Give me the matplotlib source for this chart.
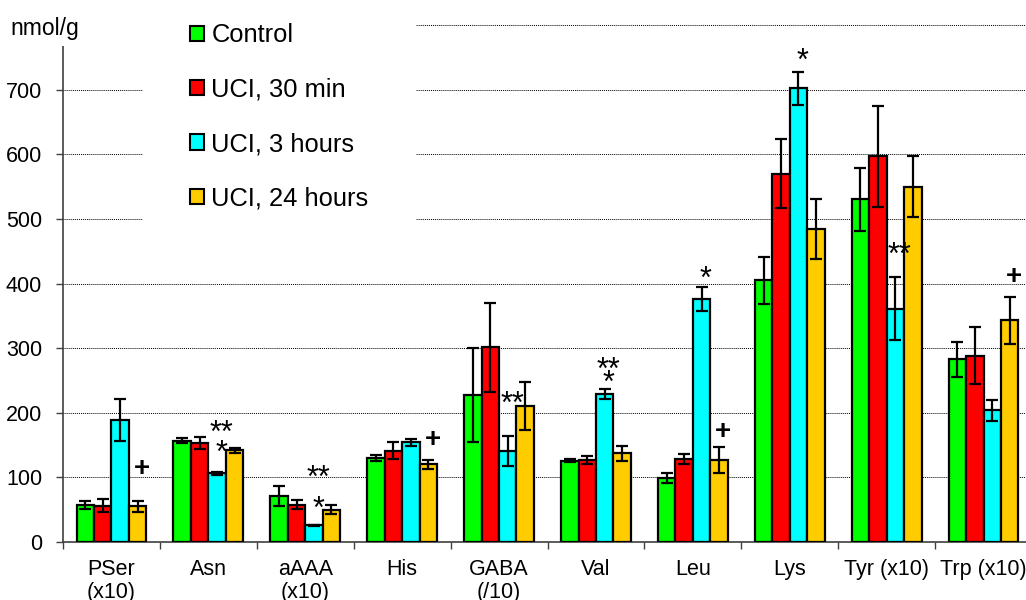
import numpy as np
import matplotlib
matplotlib.use("Agg")
import matplotlib.pyplot as plt
from matplotlib.patches import Rectangle, Patch

plt.rcParams['font.family'] = ['Liberation Sans', 'DejaVu Sans']

# Data (nmol/g, mean and error)
groups = ['PSer\n(x10)', 'Asn', 'aAAA\n(x10)', 'His', 'GABA\n(/10)',
          'Val', 'Leu', 'Lys', 'Tyr (x10)', 'Trp (x10)']
series = ['Control', 'UCI, 30 min', 'UCI, 3 hours', 'UCI, 24 hours']
control = [57, 157, 71, 130, 227, 126, 99, 405, 530, 283]
control_err = [6, 4, 15, 5, 73, 2, 8, 36, 48, 27]
uci30 = [56, 153, 58, 141, 301, 127, 128, 570, 597, 288]
uci30_err = [10, 9, 7, 13, 69, 6, 8, 53, 78, 44]
uci3h = [189, 106, 26, 154, 141, 229, 376, 702, 361, 204]
uci3h_err = [32, 3, 1, 6, 23, 8, 18, 26, 49, 16]
uci24 = [55, 142, 50, 120, 211, 137, 127, 484, 550, 343]
uci24_err = [8, 4, 7, 7, 37, 12, 20, 46, 47, 36]

# significance marks: (group index, series index, text, height)
marks = [(0, 3, '+', 117), (1, 2, '**', 181), (1, 2, '*', 150),
         (2, 2, '**', 112), (2, 2, '*', 63), (3, 3, '+', 161),
         (4, 2, '**', 225), (5, 2, '**', 279), (5, 2, '*', 258),
         (6, 2, '*', 419), (6, 3, '+', 173), (7, 2, '*', 756),
         (8, 2, '**', 456), (9, 3, '+', 413)]

colors = ['#00FF00', '#FF0000', '#00FFFF', '#FFCC00']
values = [control, uci30, uci3h, uci24]
errors = [control_err, uci30_err, uci3h_err, uci24_err]

W, H = 1026, 600
fig = plt.figure(figsize=(W / 100, H / 100), dpi=100)
ax = fig.add_axes([63 / W, 58 / H, 969 / W, 517 / H])

x = np.arange(len(groups))
width = 0.18
offsets = [-0.27, -0.09, 0.09, 0.27]
for vals, errs, col, off, lab in zip(values, errors, colors, offsets, series):
    ax.bar(x + off, vals, width, color=col, edgecolor='black', linewidth=1.6,
           label=lab, zorder=3)
    ax.errorbar(x + off, vals, yerr=errs, fmt='none', ecolor='black',
                elinewidth=1.6, capsize=4, capthick=1.6, zorder=4)

for g, s, txt, yv in marks:
    if '*' in txt:
        fs, dy, wt = 22, -0.55 * 22, 'normal'
    else:
        fs, dy, wt = 20, -0.33 * 20, 'bold'
    ax.annotate(txt, xy=(x[g] + offsets[s], yv), xytext=(3, dy),
                textcoords='offset points', ha='center', va='baseline',
                fontsize=fs, fontweight=wt, zorder=5)

ax.set_xlim(-0.5, len(groups) - 0.5)
ax.set_ylim(0, 800)
ax.set_yticks(range(0, 801, 100))
ax.set_yticklabels([str(v) for v in range(0, 701, 100)] + [''])
ax.yaxis.grid(True, linestyle=(0, (1, 1)), color='black', linewidth=0.7, zorder=0)
ax.set_axisbelow(True)

ax.set_xticks(np.arange(-0.5, len(groups), 1.0))
ax.set_xticklabels([])
ax.set_xticks(x, minor=True)
ax.set_xticklabels(groups, minor=True, fontsize=15.5, linespacing=1.15)
ax.tick_params(axis='x', which='major', direction='out', length=5, width=1, color='#404040')
ax.tick_params(axis='x', which='minor', length=0, pad=12)
ax.tick_params(axis='y', direction='out', length=5, width=1, color='#404040',
               labelsize=15.5, pad=10)

for side in ['top', 'right']:
    ax.spines[side].set_visible(False)
for side in ['left', 'bottom']:
    ax.spines[side].set_color('#404040')
    ax.spines[side].set_linewidth(1.2)

handles = [Patch(facecolor=c, edgecolor='black', linewidth=1.5) for c in colors]
leg = fig.legend(handles, series, loc='upper left',
                 bbox_to_anchor=(143 / W, 1 + 24 / H), bbox_transform=fig.transFigure,
                 fontsize=18.4, handlelength=0.55, handleheight=0.55, handletextpad=0.28,
                 labelspacing=1.19, borderpad=1.85, borderaxespad=0, frameon=True,
                 fancybox=False, framealpha=1, facecolor='white', edgecolor='none')
leg.set_zorder(10)

fig.patches.append(Rectangle((0, 1 - 46 / H), 143 / W, 46 / H, transform=fig.transFigure,
                             facecolor='white', edgecolor='none', zorder=8))
fig.text(10 / W, 1 - 28 / H, 'nmol/g', fontsize=16.5, ha='left', va='center', zorder=9)

fig.savefig('out.png', dpi=100)
